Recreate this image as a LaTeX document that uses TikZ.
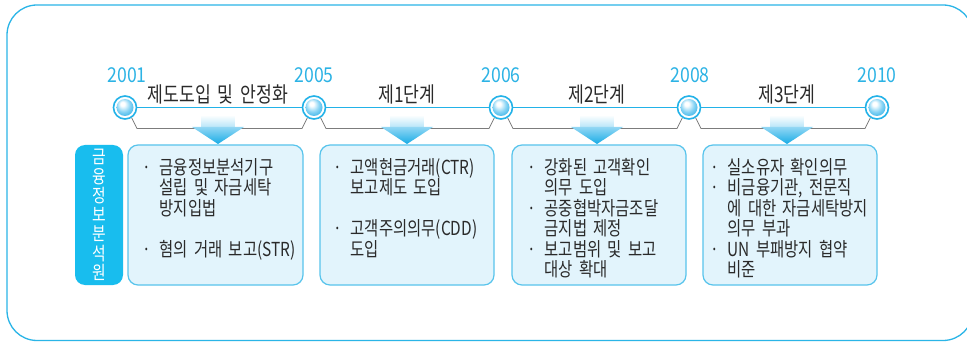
\documentclass[tikz,border=0pt]{standalone}
\usepackage{fontspec}
\setmainfont{Noto Sans CJK KR}[FakeStretch=0.8,WordSpace=1.8]
\newfontfamily\yearfont{Noto Sans CJK KR}[FakeStretch=0.86]
\usetikzlibrary{calc}
\definecolor{framecol}{HTML}{2AB5E7}
\definecolor{linecol}{HTML}{22B2E8}
\definecolor{yearcol}{HTML}{2CB3E5}
\definecolor{boxfill}{HTML}{E2F4FC}
\definecolor{boxdraw}{HTML}{58C4EC}
\definecolor{sidefill}{HTML}{18BDEE}
\definecolor{graycol}{HTML}{7C7C7C}
\definecolor{txtcol}{HTML}{2A2A2A}
\definecolor{ballmid}{HTML}{86D3F4}
\definecolor{balledge}{HTML}{1AA6E2}
\definecolor{stembot}{HTML}{B3E4F8}
\definecolor{headtop}{HTML}{92D7F4}
\definecolor{headbot}{HTML}{18ACE6}
\pgfdeclareradialshading{ballshade}{\pgfpoint{-8bp}{12bp}}{color(0bp)=(white); color(6bp)=(white); color(20bp)=(ballmid); color(38bp)=(balledge); color(50bp)=(balledge)}
\newcommand\bi[1]{\hbox{\makebox[25pt][c]{·}#1}}
\newcommand\bc[1]{\hbox{\hspace*{25pt}#1}}
\newcommand\bblank{\hbox{}}
\newcommand\itemlines[1]{\vtop{\baselineskip=20.5pt\lineskiplimit=-20pt #1}}
\begin{document}
\begin{tikzpicture}[x=1pt,y=-1pt,
  frame/.style={draw=framecol,line width=1.3pt,rounded corners=30pt},
  ring/.style={circle,draw=linecol,line width=1.6pt,fill=white,minimum size=23pt,inner sep=0pt},
  tline/.style={draw=linecol,line width=1.8pt},
  bracket/.style={draw=graycol,line width=0.8pt},
  year/.style={text=yearcol,font=\yearfont\fontsize{20.5}{22}\selectfont,inner sep=0pt},
  stage/.style={text=txtcol,font=\fontsize{21.5}{23}\selectfont,inner sep=0pt},
  infobox/.style={draw=boxdraw,fill=boxfill,line width=1.2pt,rounded corners=10pt,minimum height=140pt,inner sep=0pt},
  itemtxt/.style={text=txtcol,font=\fontsize{19.3}{20.5}\selectfont,inner sep=0pt,anchor=base west},
  side/.style={fill=sidefill,rounded corners=10pt,minimum width=48pt,minimum height=140pt,text=white,align=center,inner sep=0pt,font=\fontsize{18.5}{19.3}\selectfont}
]
\useasboundingbox (0,0) rectangle (967,342);
\clip (0,0) rectangle (967,342);
\fill[white] (0,0) rectangle (967,342);
\draw[frame] (7,5) rectangle (973,340.5);

% timeline circles
\node[ring] (c1) at (125,107.5) {};
\node[ring] (c2) at (314,107.5) {};
\node[ring] (c3) at (501,107.5) {};
\node[ring] (c4) at (689,107.5) {};
\node[ring] (c5) at (877,107.5) {};
\foreach \c in {c1,c2,c3,c4,c5}
  \shade[shading=ballshade] (\c.center) circle[radius=8.5pt];

% timeline
\draw[tline] (c1) -- (c2);
\draw[tline] (c2) -- (c3);
\draw[tline] (c3) -- (c4);
\draw[tline] (c4) -- (c5);

% brackets
\foreach \a/\b in {c1/c2,c2/c3,c3/c4,c4/c5}
  \draw[bracket] (\a.-57) -- ($(\a.center)+(12,21)$) -- ($(\b.center)+(-12,21)$) -- (\b.-123);

% years
\node[year] (y1) at (127,75.5) {2001};
\node[year] (y2) at (314,75.5) {2005};
\node[year] (y3) at (501,75.5) {2006};
\node[year] (y4) at (690,75.5) {2008};
\node[year] (y5) at (877,75.5) {2010};

% stage labels
\node[stage] (s1) at (218,94) {제도도입 및 안정화};
\node[stage] (s2) at (407,94) {제1단계};
\node[stage] (s3) at (597,94) {제2단계};
\node[stage] (s4) at (787,94) {제3단계};

% arrows
\foreach \m in {218,407,597,787}{
  \shade[top color=white,bottom color=stembot] ({\m-16.5},115) rectangle ({\m+16.5},128);
  \shade[top color=headtop,bottom color=headbot] ({\m-26},127) -- ({\m+26},127) -- (\m,144) -- cycle;
}

% side label
\node[side] (lab) at (99,215) {금\\융\\정\\보\\분\\석\\원};

% boxes
\node[infobox,minimum width=175pt] (b1) at (215.5,215) {};
\node[infobox,minimum width=174pt] (b2) at (407,215) {};
\node[infobox,minimum width=174pt] (b3) at (599,215) {};
\node[infobox,minimum width=174pt] (b4) at (790,215) {};

\node[itemtxt] (t1) at (134.5,174.5) {\itemlines{%
  \bi{금융정보분석기구}\bc{설립 및 자금세탁}\bc{방지입법}\bblank\bi{혐의 거래 보고(STR)}}};
\node[itemtxt] (t2) at (325.5,174.5) {\itemlines{%
  \bi{고액현금거래(CTR)}\bc{보고제도 도입}\bblank\bi{고객주의의무(CDD)}\bc{도입}}};
\node[itemtxt] (t3) at (519.5,174.5) {\itemlines{%
  \bi{강화된 고객확인}\bc{의무 도입}\bi{공중협박자금조달}\bc{금지법 제정}\bi{보고범위 및 보고}\bc{대상 확대}}};
\node[itemtxt] (t4) at (702.5,174.5) {\itemlines{%
  \bi{실소유자 확인의무}\bi{비금융기관, 전문직}\bc{에 대한 자금세탁방지}\bc{의무 부과}\bi{UN 부패방지 협약}\bc{비준}}};
\end{tikzpicture}
\end{document}
